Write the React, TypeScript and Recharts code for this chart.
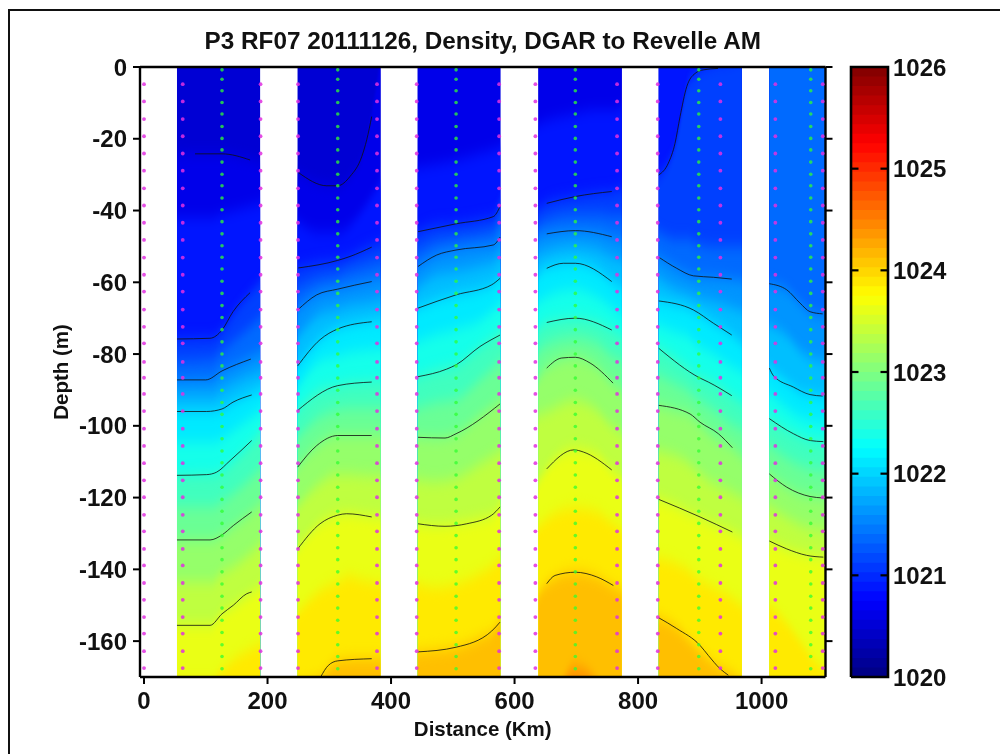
import React from 'react';
import { ComposedChart, Area, Line, Scatter, XAxis, YAxis, Label } from 'recharts';

const FONT = '"Liberation Sans", Arial, sans-serif';
const TITLE = 'P3 RF07 20111126, Density, DGAR to Revelle AM';
const X_TICKS = [0, 200, 400, 600, 800, 1000];
const Y_TICKS = [0, -20, -40, -60, -80, -100, -120, -140, -160];
const CB_TICKS = [1020, 1021, 1022, 1023, 1024, 1025, 1026];

// Density levels whose depth is tabulated for each flight-leg panel
const LEVELS = [1020.25, 1020.5, 1020.75, 1021, 1021.25, 1021.5, 1021.75, 1022, 1022.25, 1022.5, 1022.75, 1023, 1023.25, 1023.5, 1023.75, 1024, 1024.25];

const P1_X = [53.4, 107, 126.3, 147, 188];
const P1_D = [
  [20, 20, 20, 20, 20],
  [-24.3, -24.2, -24.2, -24.8, -26.5],
  [-42, -42, -41, -40, -38],
  [-75.8, -75.6, -73.3, -68.2, -60],
  [-82, -81.5, -79, -76, -70],
  [-87.2, -87, -84.7, -83, -79.5],
  [-91.5, -91.5, -90, -88, -85],
  [-96, -96, -95.3, -93.4, -90],
  [-104.5, -104.5, -103.5, -101, -96],
  [-113.8, -113.6, -112.5, -109.5, -102],
  [-122.5, -122.5, -121, -118.5, -112],
  [-131.8, -131.8, -130.4, -127.8, -122],
  [-143.5, -143.5, -141, -139, -133],
  [-155.6, -155.6, -152.4, -150, -145],
  [-171, -171, -168, -165, -161],
  [-190, -190, -190, -190, -190],
  [-195, -195, -195, -195, -195],
];

const P2_X = [248.6, 285, 313.6, 333.6, 353, 383];
const P2_D = [
  [20, 20, 20, 20, 20, 20],
  [-29.4, -32.5, -33.1, -30.5, -25, 2],
  [-43, -46, -46, -44, -40, -32],
  [-56, -54.5, -53.9, -52.8, -51, -49],
  [-62, -59, -58, -56.5, -55.5, -54],
  [-67.7, -63, -61.9, -61, -60.2, -59],
  [-75.5, -69, -67.5, -66.5, -66, -65],
  [-83.3, -76, -73, -72, -71.3, -70.5],
  [-89.5, -82, -80.5, -79.5, -79, -78.5],
  [-95.7, -90, -88.8, -88, -87.8, -87.5],
  [-103.5, -97.5, -95.5, -95, -95, -95],
  [-111.5, -105, -102.7, -102.7, -102.7, -102.7],
  [-122.5, -116, -113.5, -113.5, -113.8, -114],
  [-134.3, -127.3, -124.9, -124.5, -125, -125.5],
  [-152, -146, -143.5, -142, -143, -144],
  [-172, -170, -165.5, -165, -164.9, -165],
  [-190, -190, -190, -190, -190, -190],
];

const P3_X = [443.2, 474, 505.6, 545, 564, 577];
const P3_D = [
  [20, 20, 20, 20, 20, 20],
  [5, 4, 5, 5, 5, 5],
  [-28, -27, -26, -24, -23, -22],
  [-45.9, -44, -43.7, -42.5, -41.7, -37],
  [-51, -48.5, -47.5, -46.5, -45.5, -42],
  [-55.6, -52.4, -51, -50, -49.6, -47],
  [-61.5, -58, -57, -55.5, -54.5, -52.5],
  [-67.2, -65, -63.5, -62, -60.7, -58.5],
  [-76.5, -74.5, -73, -70.5, -68, -66],
  [-86.3, -84.5, -83, -78, -75.5, -73.5],
  [-95, -93.5, -92.5, -87, -84, -82],
  [-103.2, -103.3, -102.2, -97, -94.5, -92.5],
  [-115, -115.5, -114.5, -110.5, -108.5, -107],
  [-127.3, -127.8, -127.3, -126, -124.9, -122],
  [-144, -145, -144, -141, -139, -137],
  [-163, -162.5, -161.7, -159, -157.2, -154],
  [-190, -190, -190, -185, -175, -172],
];

const P4_X = [638.6, 652, 698, 732, 757.6, 773.6];
const P4_D = [
  [20, 20, 20, 20, 20, 20],
  [10, 10, 10, 10, 10, 10],
  [-16, -15, -13, -12, -12, -11],
  [-39.5, -38, -36.1, -35.2, -34.7, -34],
  [-44, -42.5, -41, -41, -41.5, -41.5],
  [-47.5, -46.5, -45.6, -46, -47.3, -48],
  [-52.5, -51.5, -50, -51, -53, -54],
  [-58, -56.1, -54.7, -56.5, -59.8, -61.5],
  [-65.5, -64, -62, -64, -67, -69],
  [-73, -71.2, -70, -71, -73.3, -75],
  [-79.5, -77.5, -75.5, -77, -80.5, -82],
  [-87, -83.9, -80.9, -83.5, -88.1, -90],
  [-97, -96, -93, -95.5, -100, -102],
  [-115.5, -112, -106.7, -108, -112.3, -114.5],
  [-128, -126, -123, -124, -127, -129],
  [-147, -144, -140.8, -142, -144.5, -146],
  [-186, -182, -167, -171, -182, -186],
];

const P5_X = [833.5, 863, 879, 892.6, 922, 952, 968];
const P5_D = [
  [20, 20, 20, 20, 20, 20, 20],
  [15, 15, 15, 15, 15, 15, 15],
  [5, 5, 5, 5, 5, 5, 5],
  [-30.1, -20, -5.5, -1.8, 1, 2, 3],
  [-46, -48, -48, -49, -50, -50, -50],
  [-53, -56.1, -57.5, -58.4, -58.6, -59.1, -59.5],
  [-59, -62, -63, -64, -65.5, -67, -68],
  [-65.2, -66.5, -67.2, -68.3, -71.4, -74.7, -77],
  [-72, -74, -75, -77, -80, -83.5, -85],
  [-78.4, -81.5, -83.5, -85.5, -88, -91.6, -93.5],
  [-86, -88.5, -90, -92, -95.5, -99.5, -101],
  [-94.3, -95.8, -96.5, -98.3, -103, -106.1, -108.5],
  [-107, -108.5, -110, -112, -116, -118.5, -120],
  [-120.5, -122.5, -124, -125, -127.5, -129.6, -131],
  [-137, -138.5, -140, -142, -145, -148, -150],
  [-153.5, -156.3, -159, -161.5, -166, -169, -171],
  [-190, -190, -190, -190, -190, -190, -190],
];

const P6_X = [1012.6, 1041, 1062.6, 1079, 1103];
const P6_D = [
  [20, 20, 20, 20, 20],
  [20, 20, 20, 20, 20],
  [20, 20, 20, 20, 20],
  [20, 20, 20, 20, 20],
  [20, 20, 20, 20, 20],
  [-60.4, -62.1, -65.8, -68.2, -69.2],
  [-72, -75, -79, -81, -82],
  [-83.9, -87.8, -90.5, -91.3, -92],
  [-91, -95, -97.5, -98.5, -99],
  [-98, -101, -103, -104.1, -104.5],
  [-105.5, -109, -111, -112, -112.5],
  [-113.4, -117.1, -119, -119.7, -120.2],
  [-122.5, -125.5, -127.5, -128.5, -129],
  [-132.1, -134.3, -135.5, -136.2, -136.7],
  [-150, -155, -160, -164, -168],
  [-190, -190, -190, -190, -190],
  [-195, -195, -195, -195, -195],
];

const PANELS = [
  { x: P1_X, d: P1_D },
  { x: P2_X, d: P2_D },
  { x: P3_X, d: P3_D },
  { x: P4_X, d: P4_D },
  { x: P5_X, d: P5_D },
  { x: P6_X, d: P6_D },
];

// Black contour lines as [distance km, depth m]
const CONTOURS: number[][][] = [
  [[82.6, -24.2], [126.3, -24.2], [171.7, -25.9]],
  [[53.4, -75.8], [106.9, -75.6], [126.3, -73.3], [144.1, -68.2], [171.7, -62.9]],
  [[53.4, -87.2], [100, -87.2], [126.3, -84.7], [173, -81.4]],
  [[53.4, -96], [101.5, -96], [126.3, -95.3], [144.1, -93.4], [174.4, -91.4]],
  [[53.4, -113.8], [101.5, -113.6], [117.7, -112.9], [139.3, -109.7], [174.4, -104.1]],
  [[53.4, -131.8], [106.9, -131.8], [126.3, -130.4], [144.6, -127.8], [174.4, -124]],
  [[53.4, -155.6], [106.9, -155.6], [126.3, -152.4], [144.6, -150], [166.3, -146.8], [174.4, -146.3]],
  [[249.9, -29.4], [295.9, -33.1], [313.7, -33.1], [333.6, -30.5], [352.5, -25], [360.6, -20.3], [368.7, -13.8]],
  [[249.9, -56], [313.7, -53.9], [333.6, -52.8], [368.7, -50.2]],
  [[248.9, -67.7], [279.7, -63.5], [313.7, -61.9], [368.7, -59.8]],
  [[248.9, -83.3], [285, -76], [313.7, -73], [368.7, -71]],
  [[248.9, -95.7], [313.7, -88.8], [368.7, -87.8]],
  [[248.9, -111.5], [279.7, -105.5], [313.7, -102.7], [368.7, -102.7]],
  [[248.9, -134.3], [285, -127.3], [313.7, -124.9], [328, -124.5], [368.7, -125.4]],
  [[286, -170], [298.3, -166.8], [313.7, -165.5], [368.7, -164.9]],
  [[443.7, -45.9], [505.3, -43.7], [565.6, -41.7], [576.5, -38.9]],
  [[443.7, -55.6], [474, -52.4], [505.3, -51], [565.6, -49.6], [576.5, -47.4]],
  [[443.7, -67.2], [505.3, -63.5], [563, -60.7], [576.5, -58.9]],
  [[443.7, -86.3], [490, -84.2], [505.3, -83], [544, -77.9], [576.5, -74.7]],
  [[443.7, -103.2], [487.4, -103.4], [505.3, -102.2], [576.5, -93.9]],
  [[443.7, -127.3], [487.4, -128], [522.5, -127.3], [563, -124.9], [576.5, -122.6]],
  [[443.7, -163], [505.3, -161.7], [563, -157.2], [576.5, -154.7]],
  [[652.1, -38], [698.4, -36.1], [757.4, -34.7]],
  [[652.1, -46.5], [698.4, -45.6], [757.4, -47.3]],
  [[652.1, -56.1], [679, -54.7], [698.4, -54.7], [757.4, -59.8]],
  [[652.1, -71.2], [698.4, -70], [757.4, -73.3]],
  [[652.1, -83.9], [676.4, -81.1], [698.4, -80.9], [722.3, -82.5], [759.5, -88.1]],
  [[652.1, -112], [696.3, -106.7], [711.4, -107.3], [757.4, -112.3]],
  [[652.1, -144], [665.6, -141.7], [698.4, -140.8], [733.1, -142.1], [760, -144.5]],
  [[833.5, -30.1], [849, -26.8], [859.8, -21.3], [868, -13.8], [878.8, -5.5], [892.3, -1.8], [905.7, -0.8], [929.5, -0.4]],
  [[833.5, -53], [862.6, -56.1], [889.5, -58.2], [921.9, -58.6], [951.7, -59.1]],
  [[833.5, -65.2], [889.5, -67.7], [921.9, -71.4], [951.7, -74.7]],
  [[833.5, -78.4], [900.4, -86.7], [913.8, -87.8], [951.7, -91.6]],
  [[833.5, -94.3], [884.2, -96.7], [900.4, -99], [930, -102.2], [952.7, -106.1]],
  [[833.5, -120.5], [900.4, -125.4], [952.7, -129.6]],
  [[833.5, -153.5], [862.6, -156.5], [900.4, -161.2], [913.8, -164], [932.8, -167.7], [946.2, -169.5]],
  [[1012.6, -60.4], [1040.8, -62.1], [1062.3, -65.8], [1078.5, -68.2], [1099, -68.8]],
  [[1012.6, -83.9], [1019.1, -86], [1051.5, -89.2], [1078.5, -91.3], [1099, -91.7]],
  [[1012.6, -98], [1051.5, -102.2], [1078.5, -104.1], [1100, -104.4]],
  [[1012.6, -113.4], [1040.8, -117.1], [1078.5, -119.7], [1100, -120.1]],
  [[1012.6, -132.1], [1040.8, -134.3], [1073, -136.1], [1100, -136.6]],
];

// Sample positions
const MAGENTA_X = [0, 62.7, 188.7, 249.4, 377.3, 441.6, 575, 633.7, 766, 831.9, 933.3, 1022.3, 1099];
const MAGENTA_D = [-4.8, -9.6, -14.5, -19.3, -24.1, -28.9, -33.8, -38.6, -43.4, -48.2, -53.1, -57.9, -62.6, -67.6, -72.4, -77, -82.2, -86.6, -91.1, -95.9, -100.8, -105.6, -110.4, -115.2, -119.9, -124.8, -129.4, -134.3, -138.9, -143.8, -148.5, -153.3, -157.9, -162.8, -167.5];
const GREEN_X = [126.3, 313.7, 505.3, 698.4, 898.3, 1079.6];
const GREEN_D = [-0.8, -3.4, -6.6, -9.9, -13.1, -16.6, -19.9, -23.1, -26.5, -29.9, -33.1, -36.5, -39.8, -43.1, -46.5, -49.8, -53, -56.3, -59.7, -63.1, -66.5, -69.8, -73.2, -76.6, -80, -83.3, -86.7, -90.1, -93.5, -96.8, -100.2, -103.6, -107, -110.3, -113.7, -117.1, -120.5, -123.8, -127.2, -130.6, -134, -137.3, -140.7, -144.1, -147.5, -150.8, -154.2, -157.6, -161, -164.3, -167.7];

const magentaPts = MAGENTA_X.flatMap((x) => MAGENTA_D.map((d) => ({ x, d })));
const greenPts = GREEN_X.flatMap((x) => GREEN_D.map((d) => ({ x, d })));

// MATLAB jet over 1020..1026
function jet(value: number): string {
  const v = (value - 1020) / 6;
  const c = (t: number) => Math.round(255 * Math.max(0, Math.min(1, t)));
  const r = c(Math.min(4 * v - 1.5, -4 * v + 4.5));
  const g = c(Math.min(4 * v - 0.5, -4 * v + 3.5));
  const b = c(Math.min(4 * v + 0.5, -4 * v + 2.5));
  return `rgb(${r},${g},${b})`;
}
const bandColor = (lev: number, i: number) => jet(lev + (i === 0 ? 0.25 : 0.125));

const tickStyle = { fontFamily: FONT, fontWeight: 700, fontSize: 24, fill: '#111' };
const axisLine = { stroke: '#000', strokeWidth: 2.4 };
const tickLine = { stroke: '#000', strokeWidth: 2 };
const BOTTOM = -230;

const Dot = (color: string, r: number, o: number) => (p: any) => (
  <circle cx={p.cx} cy={p.cy} r={r} fill={color} fillOpacity={o} />
);

function CbTick(p: any) {
  const { x, y, payload } = p;
  const inner = payload.value !== 1020 && payload.value !== 1026;
  return (
    <g>
      {inner && <line x1={x - 37} x2={x - 29.5} y1={y} y2={y} stroke="#000" strokeWidth={2.2} />}
      {inner && <line x1={x - 7.5} x2={x} y1={y} y2={y} stroke="#000" strokeWidth={2.2} />}
      <text x={x + 5} y={y + 8.5} style={tickStyle}>{payload.value}</text>
    </g>
  );
}

const CB_STEPS = Array.from({ length: 64 }, (_, i) => 1020 + (i * 6) / 64);
const CB_FRAME = [
  { x: 0, v: 1020 },
  { x: 0, v: 1026 },
  { x: 1, v: 1026 },
  { x: 1, v: 1020 },
  { x: 0, v: 1020 },
];
const softness = { filter: 'blur(0.45px)' };

export default function App() {
  return (
    <div style={{ position: 'absolute', left: 0, top: 0, width: 1000, height: 754, overflow: 'hidden', background: '#fff' }}>
      <div style={{ position: 'absolute', left: 8, top: 9, width: 1100, height: 900, borderLeft: '2px solid #111', borderTop: '2px solid #111' }} />
      <svg width="0" height="0" style={{ position: 'absolute' }}>
        <defs>
          <filter id="vblur" x="0" y="-0.2" width="1" height="1.4" colorInterpolationFilters="sRGB">
            <feGaussianBlur stdDeviation="0 7" />
          </filter>
        </defs>
      </svg>
      <div style={{ position: 'absolute', left: 0, top: 0, ...softness }}>
        <ComposedChart width={1000} height={754} margin={{ top: 60, left: 70, right: 167.5, bottom: 47 }}>
          {PANELS.flatMap((panel, pi) =>
            LEVELS.map((lev, li) => {
              const data = panel.x.map((x, k) => ({ x, band: [BOTTOM, panel.d[li][k]] }));
              return (
                <Area
                  key={`b${pi}-${li}`}
                  data={data}
                  dataKey="band"
                  type="monotone"
                  stroke="none"
                  fill={bandColor(lev, li)}
                  fillOpacity={1}
                  filter="url(#vblur)"
                  isAnimationActive={false}
                  dot={false}
                  activeDot={false}
                />
              );
            })
          )}
          {CONTOURS.map((c, i) => (
            <Line
              key={`c${i}`}
              data={c.map(([x, d]) => ({ x, d }))}
              dataKey="d"
              type="monotone"
              stroke="#101010"
              strokeOpacity={0.8}
              strokeWidth={1}
              dot={false}
              activeDot={false}
              isAnimationActive={false}
            />
          ))}
          <Scatter data={magentaPts} dataKey="d" shape={Dot('#e030e0', 1.9, 0.85)} isAnimationActive={false} />
          <Scatter data={greenPts} dataKey="d" shape={Dot('#30ff30', 1.8, 0.75)} isAnimationActive={false} />
          <XAxis
            dataKey="x"
            type="number"
            domain={[-6.5, 1103.5]}
            ticks={X_TICKS}
            height={30}
            tickSize={7}
            tickMargin={8}
            axisLine={axisLine}
            tickLine={tickLine}
            tick={tickStyle}
            allowDataOverflow
          >
            <Label value="Distance (Km)" position="bottom" offset={14} style={{ fontFamily: FONT, fontWeight: 700, fontSize: 20.5, fill: '#111' }} />
          </XAxis>
          <XAxis
            xAxisId="top"
            orientation="top"
            type="number"
            domain={[-6.5, 1103.5]}
            ticks={X_TICKS}
            height={7}
            tickSize={7}
            axisLine={axisLine}
            tickLine={tickLine}
            tickFormatter={() => ''}
            allowDataOverflow
          >
            <Label value={TITLE} position="top" offset={11} style={{ fontFamily: FONT, fontWeight: 700, fontSize: 24.3, fill: '#111' }} />
          </XAxis>
          <YAxis
            type="number"
            domain={[-170, 0]}
            ticks={Y_TICKS}
            width={70}
            tickSize={7}
            tickMargin={6}
            axisLine={axisLine}
            tickLine={tickLine}
            tick={tickStyle}
            allowDataOverflow
          >
            <Label value="Depth (m)" angle={-90} position="left" offset={9} style={{ fontFamily: FONT, fontWeight: 700, fontSize: 20.5, fill: '#111', textAnchor: 'middle' }} />
          </YAxis>
          <YAxis
            yAxisId="right"
            orientation="right"
            type="number"
            domain={[-170, 0]}
            ticks={Y_TICKS}
            width={7}
            tickSize={7}
            axisLine={axisLine}
            tickLine={tickLine}
            tickFormatter={() => ''}
            allowDataOverflow
          />
        </ComposedChart>
      </div>
      <div style={{ position: 'absolute', left: 840, top: 0, ...softness }}>
        <ComposedChart width={160} height={754} margin={{ top: 67, left: 11, right: 50, bottom: 77 }}>
          {CB_STEPS.map((s) => (
            <Area
              key={s}
              data={[{ x: 0, band: [s, 1026] }, { x: 1, band: [s, 1026] }]}
              dataKey="band"
              type="linear"
              stroke="none"
              fill={jet(s + 3 / 64)}
              fillOpacity={1}
              dot={false}
              activeDot={false}
              isAnimationActive={false}
            />
          ))}
          <Line data={CB_FRAME} dataKey="v" type="linear" stroke="#000" strokeWidth={2.6} dot={false} activeDot={false} isAnimationActive={false} />
          <XAxis dataKey="x" type="number" domain={[0, 1]} height={0} hide />
          <YAxis
            orientation="right"
            type="number"
            domain={[1020, 1026]}
            ticks={CB_TICKS}
            width={62}
            tickSize={0}
            tickMargin={0}
            axisLine={false}
            tickLine={false}
            tick={CbTick}
          />
        </ComposedChart>
      </div>
    </div>
  );
}
